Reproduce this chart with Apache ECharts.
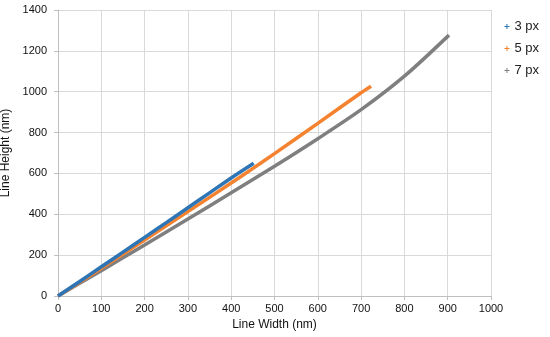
<!DOCTYPE html>
<html><head><meta charset="utf-8">
<script src="https://cdn.jsdelivr.net/npm/echarts@6/dist/echarts.min.js"></script>
<style>html,body{margin:0;padding:0;background:#fff}#c{width:550px;height:337px}</style>
</head><body><div id="c"></div>
<script>
const seriesNames = ['3 px', '5 px', '7 px'];
const colors = ['#2e75b6', '#f4822f', '#7f7f7f'];
const blueX = [0, 50, 100, 150, 200, 250, 300, 350, 400, 452];
const blueY = [0, 71, 143, 215, 287, 359, 432, 505, 578, 650];
const orangeX = [0, 50, 100, 200, 300, 400, 452, 500, 600, 700, 723];
const orangeY = [0, 67, 136, 274, 413, 553, 627, 697, 845, 995, 1027];
const grayX = [0, 50, 100, 200, 300, 400, 500, 600, 700, 800, 903];
const grayY = [0, 62, 124, 250, 377, 505, 635, 770, 912, 1076, 1277];
const xTicks = {min: 0, max: 1000, interval: 100};
const yTicks = {min: 0, max: 1400, interval: 200};

function pairs(xs, ys) { return xs.map((x, i) => [x, ys[i]]); }
const plusPath = 'path://M4,0H6V4H10V6H6V10H4V6H0V4H4Z';
const chart = echarts.init(document.getElementById('c'), null, {renderer: 'canvas'});
const data = [pairs(blueX, blueY), pairs(orangeX, orangeY), pairs(grayX, grayY)];
chart.setOption({
  animation: false,
  textStyle: {fontFamily: 'Liberation Sans, Arial, sans-serif'},
  grid: {left: 58, right: 59, top: 10, bottom: 41, containLabel: false, outerBoundsMode: 'none'},
  legend: {
    orient: 'vertical', right: 6, top: 15, itemGap: 9, itemWidth: 5, itemHeight: 5,
    icon: plusPath,
    textStyle: {fontSize: 13, color: '#222', padding: [0, 0, 0, 0]},
    data: seriesNames
  },
  xAxis: {
    type: 'value', min: xTicks.min, max: xTicks.max, interval: xTicks.interval,
    name: 'Line Width (nm)', nameLocation: 'middle', nameGap: 23,
    nameTextStyle: {fontSize: 12, color: '#111'},
    axisLine: {show: true, lineStyle: {color: '#bfbfbf'}},
    axisTick: {show: true, length: 4, lineStyle: {color: '#bfbfbf'}},
    axisLabel: {fontSize: 11, color: '#111', margin: 7, formatter: v => String(v)},
    splitLine: {show: true, lineStyle: {color: '#d9d9d9'}}
  },
  yAxis: {
    type: 'value', min: yTicks.min, max: yTicks.max, interval: yTicks.interval,
    name: 'Line Height (nm)', nameLocation: 'middle', nameGap: 38,
    nameTextStyle: {fontSize: 12, color: '#111'},
    axisLine: {show: true, lineStyle: {color: '#bfbfbf'}},
    axisTick: {show: true, length: 4, lineStyle: {color: '#bfbfbf'}},
    axisLabel: {fontSize: 11, color: '#111', margin: 11, formatter: v => String(v)},
    splitLine: {show: true, lineStyle: {color: '#d9d9d9'}}
  },
  series: seriesNames.map((n, i) => ({
    name: n, type: 'line', data: data[i], smooth: 0.3,
    showSymbol: false, symbol: plusPath, symbolSize: 5,
    itemStyle: {color: colors[i]},
    lineStyle: {width: 3.5, color: colors[i]}, z: 5 - i
  }))
});
</script></body></html>
